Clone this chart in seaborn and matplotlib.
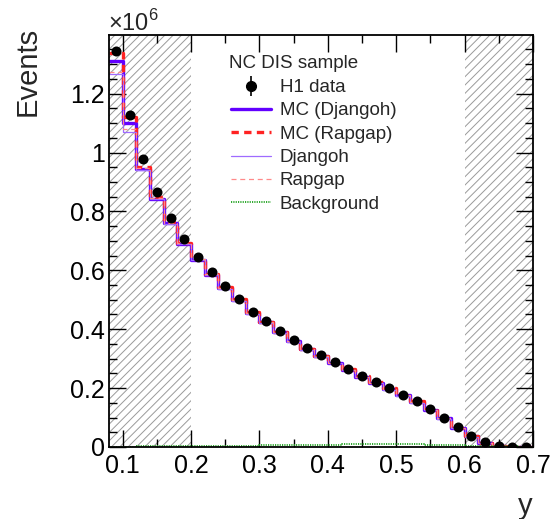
import numpy as np
import pandas as pd
import matplotlib
matplotlib.use("Agg")
import matplotlib.pyplot as plt
import seaborn as sns
from matplotlib.lines import Line2D
from matplotlib.ticker import MultipleLocator, FuncFormatter

# === Data (events in units of 10^6) ===
EDGES = [round(0.08 + 0.02 * i, 2) for i in range(32)]
CENTERS = [round(0.09 + 0.02 * i, 3) for i in range(31)]

H1_DATA = [1.344, 1.128, 0.977, 0.867, 0.778, 0.706, 0.645, 0.593, 0.547, 0.504,
           0.460, 0.428, 0.393, 0.363, 0.335, 0.311, 0.288, 0.264, 0.241, 0.220,
           0.199, 0.176, 0.155, 0.129, 0.100, 0.068, 0.039, 0.016, 0.005, 0.0015,
           0.0005]
MC_DJANGOH = [1.312, 1.100, 0.945, 0.843, 0.759, 0.690, 0.636, 0.585, 0.540, 0.498,
              0.455, 0.423, 0.389, 0.359, 0.332, 0.308, 0.286, 0.262, 0.239, 0.218,
              0.197, 0.175, 0.153, 0.126, 0.097, 0.064, 0.036, 0.014, 0.004, 0.0012,
              0.0004]
MC_RAPGAP = [1.338, 1.122, 0.950, 0.848, 0.764, 0.694, 0.640, 0.589, 0.543, 0.501,
             0.457, 0.425, 0.391, 0.361, 0.334, 0.310, 0.288, 0.264, 0.241, 0.220,
             0.199, 0.177, 0.155, 0.128, 0.099, 0.066, 0.038, 0.015, 0.0045, 0.0013,
             0.0004]
DJANGOH = [1.265, 1.071, 0.940, 0.841, 0.757, 0.688, 0.634, 0.583, 0.538, 0.496,
           0.453, 0.421, 0.387, 0.357, 0.330, 0.306, 0.284, 0.260, 0.237, 0.216,
           0.195, 0.173, 0.151, 0.124, 0.095, 0.063, 0.035, 0.013, 0.004, 0.0011,
           0.0003]
RAPGAP = [1.272, 1.080, 0.946, 0.846, 0.762, 0.692, 0.638, 0.587, 0.541, 0.499,
          0.455, 0.423, 0.389, 0.359, 0.332, 0.308, 0.286, 0.262, 0.239, 0.218,
          0.197, 0.175, 0.153, 0.126, 0.097, 0.064, 0.036, 0.014, 0.004, 0.0012,
          0.0004]
BACKGROUND = [0.001, 0.0015, 0.002, 0.002, 0.0025, 0.003, 0.003, 0.0035, 0.004, 0.0045,
              0.005, 0.0055, 0.006, 0.0065, 0.007, 0.0075, 0.008, 0.0085, 0.009, 0.0095,
              0.0095, 0.009, 0.0085, 0.008, 0.007, 0.006, 0.005, 0.004, 0.003, 0.002,
              0.001]
EXCLUDED = [(0.08, 0.2), (0.6, 0.7)]

df = pd.DataFrame({"y": CENTERS, "data": H1_DATA, "mc_dj": MC_DJANGOH,
                   "mc_rg": MC_RAPGAP, "dj": DJANGOH, "rg": RAPGAP,
                   "bkg": BACKGROUND})

# === Style ===
sns.set_style("ticks")
plt.rcParams['font.family'] = ['Liberation Sans', 'DejaVu Sans']
plt.rcParams['mathtext.fontset'] = 'custom'
plt.rcParams['mathtext.rm'] = 'Liberation Sans'
plt.rcParams['hatch.linewidth'] = 0.7
plt.rcParams['hatch.color'] = '#9a9a9a'

fig = plt.figure(figsize=(5.5, 5.19), dpi=100)
ax = fig.add_axes([109/550, 1 - 447/519, (533 - 109)/550, (447 - 35)/519])

# excluded y-regions (hatched)
for lo, hi in EXCLUDED:
    ax.axvspan(lo, hi, facecolor='none', edgecolor='#9a9a9a', hatch='////',
               linewidth=0, zorder=0)

hists = [
    ("mc_dj", '#6200ff', 2.4, '-'),
    ("mc_rg", '#ff2222', 2.4, (0, (2.2, 1.6))),
    ("dj", '#9f6bff', 0.9, '-'),
    ("rg", '#ff8a8a', 0.9, (0, (4, 3))),
    ("bkg", '#2ea82e', 1.4, (0, (0.6, 0.6))),
]
for col_name, col, lw, ls in hists:
    sns.histplot(data=df, x="y", weights=col_name, bins=EDGES, element='step',
                 fill=False, color=col, linewidth=lw, linestyle=ls, ax=ax)

sns.scatterplot(data=df, x="y", y="data", color='black', s=52, edgecolor='black',
                linewidth=0, zorder=10, ax=ax)

ax.set_xlim(0.08, 0.7)
ax.set_ylim(0, 1.399)
ax.set_xlabel('')
ax.set_ylabel('')

ax.xaxis.set_major_locator(MultipleLocator(0.1))
ax.xaxis.set_minor_locator(MultipleLocator(0.05))
ax.yaxis.set_major_locator(MultipleLocator(0.2))
ax.yaxis.set_minor_locator(MultipleLocator(0.05))
fmt = FuncFormatter(lambda v, p: f"{v:g}")
ax.xaxis.set_major_formatter(fmt)
ax.yaxis.set_major_formatter(fmt)
ax.tick_params(which='both', direction='in', top=True, right=True, width=1.0,
               labelsize=18, colors='black')
ax.tick_params(which='major', length=12)
ax.tick_params(which='minor', length=6)
ax.tick_params(axis='x', pad=5)
ax.tick_params(axis='y', pad=3)
for sp in ax.spines.values():
    sp.set_linewidth(1.3)
    sp.set_color('black')

fig.text(0.05, 1 - 27/519, 'Events', rotation=90, ha='center', va='top', fontsize=21)
fig.text(533/550, 1 - 492/519, 'y', ha='right', va='top', fontsize=21)
fig.text(108/550, 1 - 31/519, r'×10$^{6}$', ha='left', va='baseline', fontsize=17)

# legend (title drawn as separate text)
fig.text(229/550, 1 - 63/519, 'NC DIS sample', ha='left', va='center', fontsize=13.5)
handles = [
    (Line2D([], [], color='black', marker='o', ms=7, ls=''),
     Line2D([], [], color='black', marker='|', ms=14, mew=1.2, ls='')),
    Line2D([], [], color='#6200ff', lw=2.4),
    Line2D([], [], color='#ff2222', lw=2.4, ls=(0, (2.2, 1.6))),
    Line2D([], [], color='#9f6bff', lw=0.9),
    Line2D([], [], color='#ff8a8a', lw=0.9, ls=(0, (4, 3))),
    Line2D([], [], color='#2ea82e', lw=1.4, ls=(0, (0.6, 0.6))),
]
labels = ['H1 data', 'MC (Djangoh)', 'MC (Rapgap)', 'Djangoh', 'Rapgap', 'Background']
leg = ax.legend(handles, labels, loc='upper left',
                bbox_to_anchor=(231/550, 1 - 79/519), bbox_transform=fig.transFigure,
                frameon=False, fontsize=13.5, borderpad=0,
                borderaxespad=0, handlelength=2.15, handletextpad=0.45,
                labelspacing=0.33)

fig.savefig('out.png', dpi=100)
